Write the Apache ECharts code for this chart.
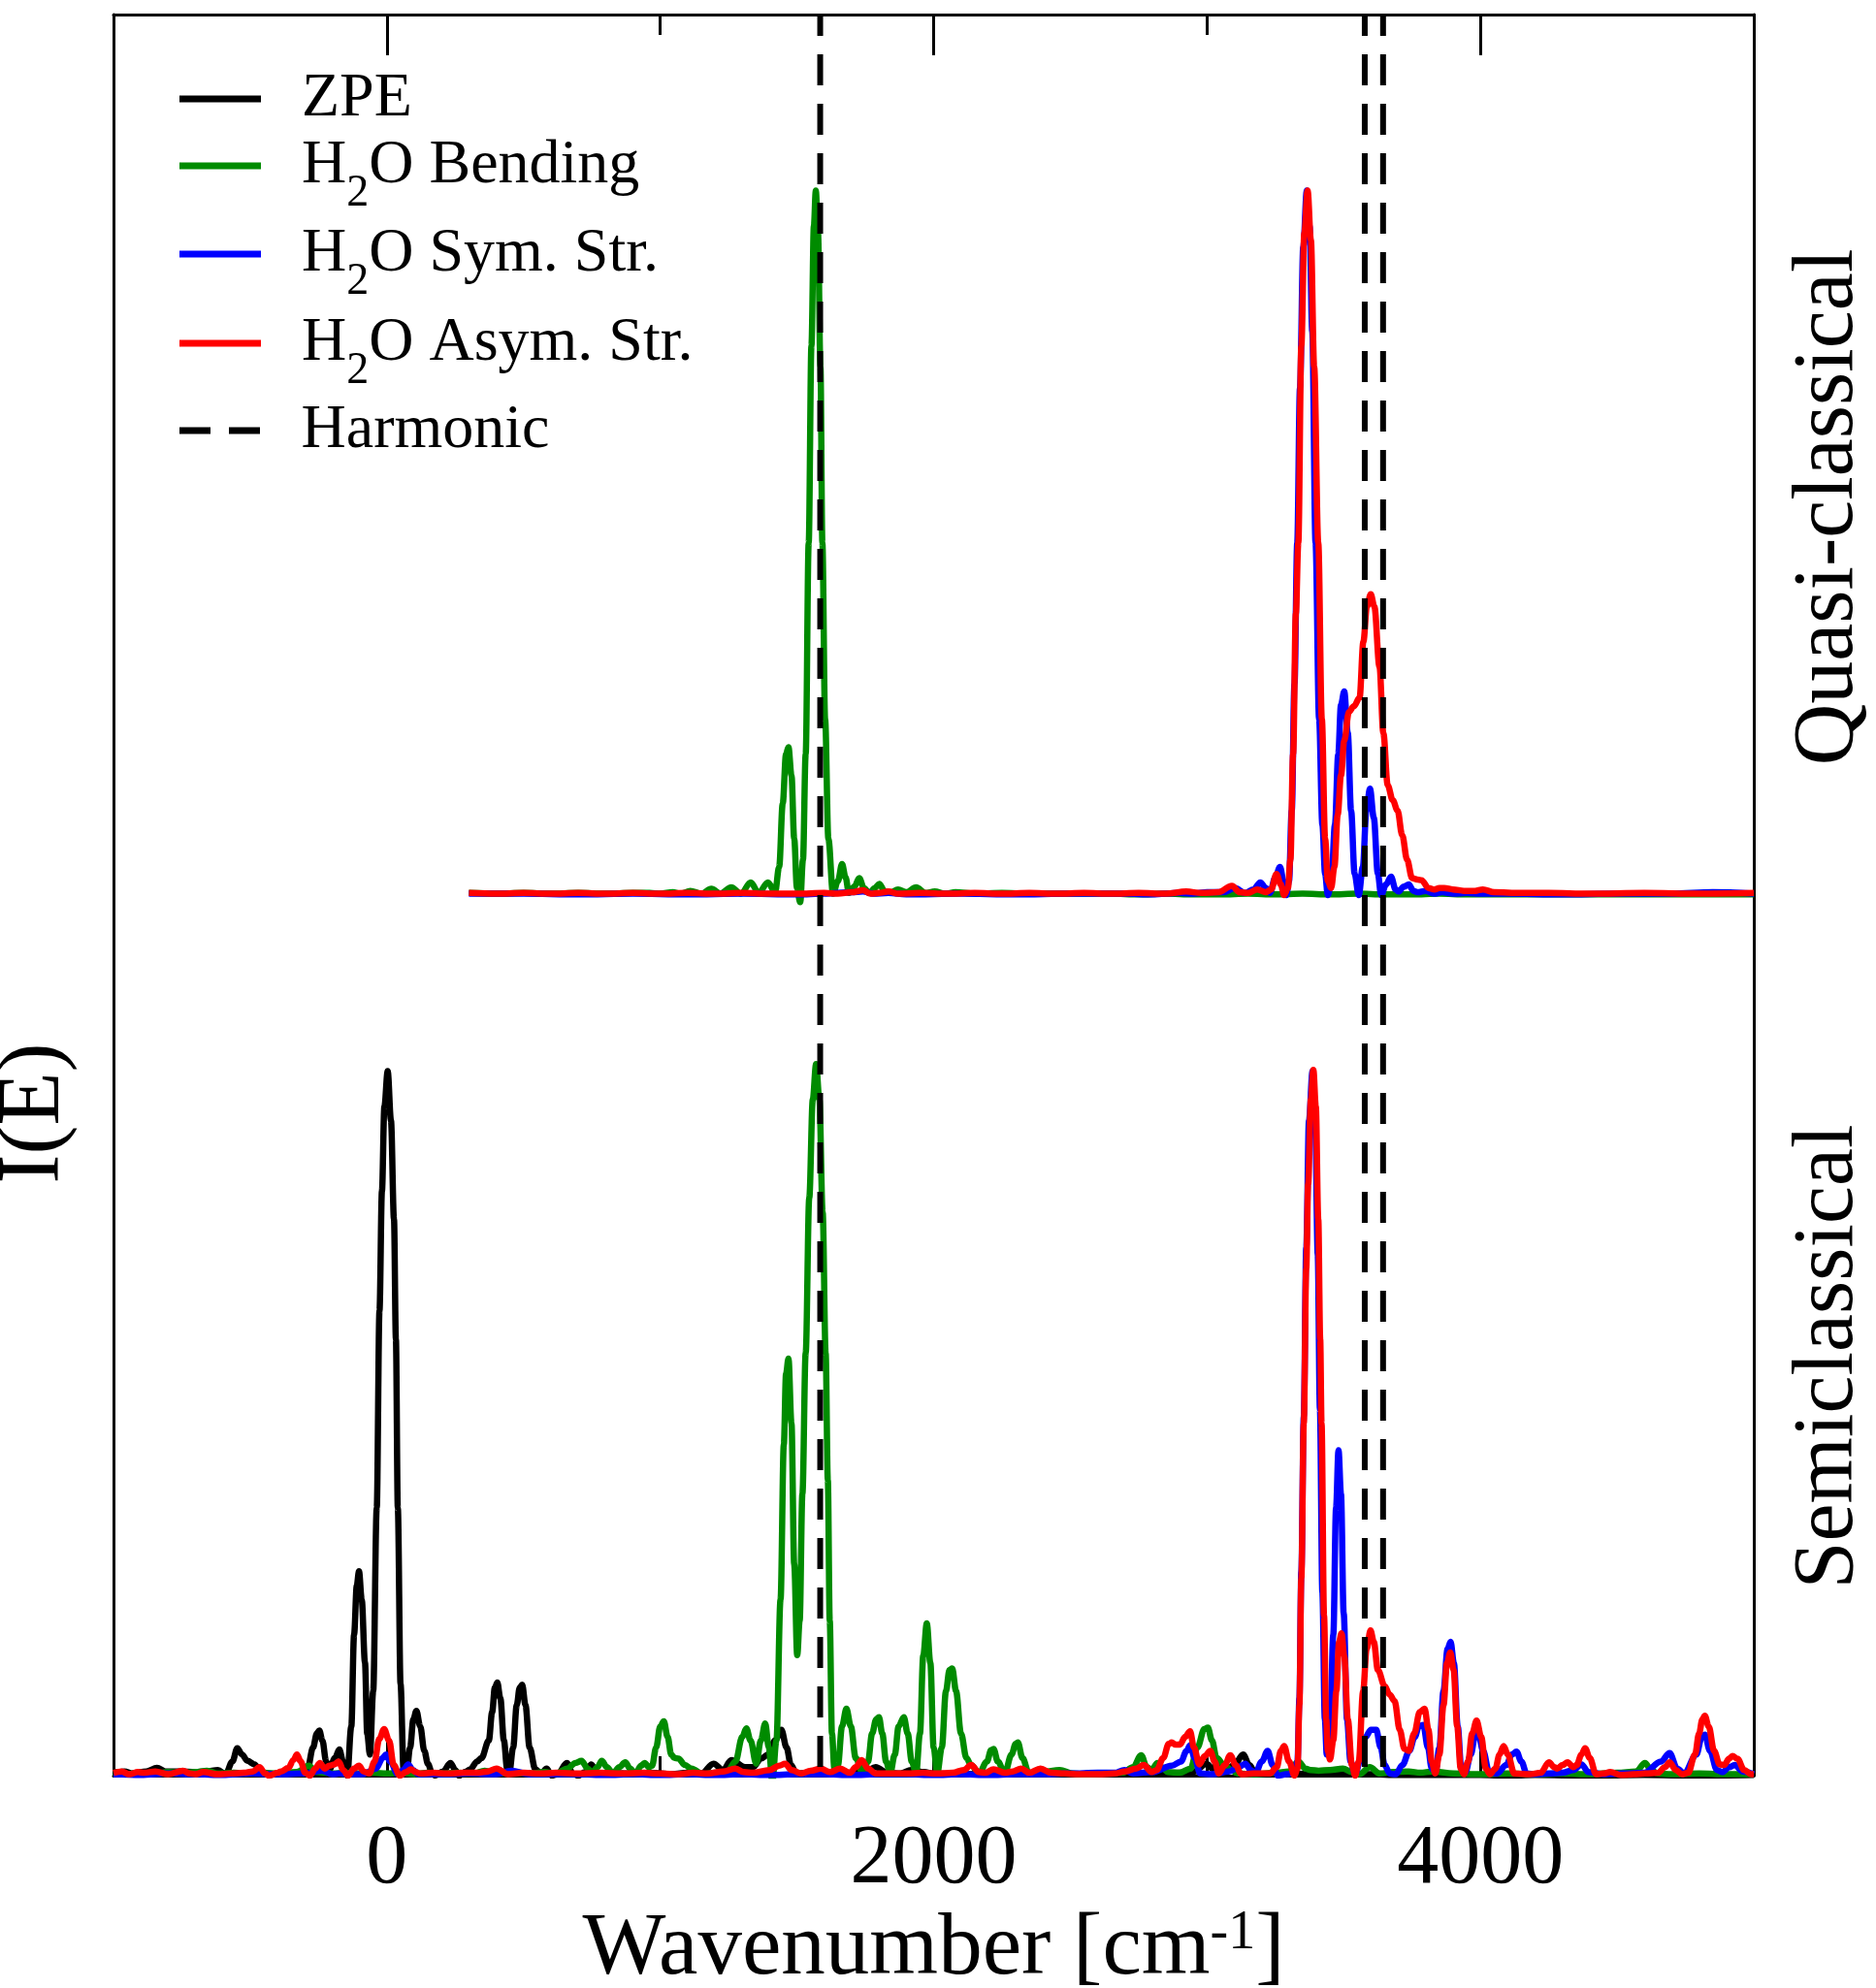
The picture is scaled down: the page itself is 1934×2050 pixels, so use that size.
<!DOCTYPE html>
<html>
<head>
<meta charset="utf-8">
<script src="https://cdn.jsdelivr.net/npm/echarts@6/dist/echarts.min.js"></script>
<style>
  html, body { margin: 0; padding: 0; background: #fff; }
  #spectrum-chart { width: 1934px; height: 2050px; }
</style>
</head>
<body>
<div id="spectrum-chart"></div>
<script>
// tick labels of the wavenumber axis
const majorTicks = [0, 2000, 4000];
const minorTicks = [1000, 3000];
// harmonic frequencies (dashed lines)
const harmonicFreqs = [1585, 3577, 3644];
// quasi-classical spectra are drawn shifted up by this amount
const qcOffset = 1.25;

// Semiclassical spectra [wavenumber, I(E)]
const zpeSC = [[-1000,0.004],[-960,0.006],[-930,0.003],[-880,0.006],[-841,0.011],[-810,0.006],[-760,0.006],[-700,0.005],[-660,0.006],[-618,0.008],[-590,0.002],[-565,0.02],[-547,0.039],[-530,0.03],[-510,0.021],[-484,0.016],[-460,0.005],[-430,0.001],[-380,0.004],[-320,0.003],[-290,0.01],[-270,0.04],[-256,0.06],[-247,0.064],[-236,0.05],[-222,0.02],[-210,0.009],[-190,0.025],[-174,0.037],[-160,0.02],[-145,0.0],[-130,0.07],[-120,0.2],[-110,0.27],[-102,0.29],[-92,0.25],[-80,0.16],[-72,0.06],[-62,0.03],[-50,0.12],[-37,0.38],[-27,0.66],[-18,0.83],[-9,0.95],[3,1.0],[15,0.93],[26,0.79],[33,0.62],[40,0.38],[50,0.13],[61,0.01],[72,0.003],[85,0.04],[97,0.08],[108,0.092],[122,0.07],[137,0.035],[150,0.017],[165,0.004],[177,0.0],[205,0.006],[233,0.018],[250,0.008],[264,0.0],[290,0.006],[305,0.009],[330,0.02],[346,0.025],[373,0.05],[385,0.09],[395,0.125],[404,0.132],[415,0.11],[428,0.05],[440,0.01],[448,0.005],[462,0.04],[475,0.1],[486,0.125],[495,0.129],[507,0.1],[522,0.04],[543,0.009],[565,0.003],[584,0.01],[603,0.0],[625,0.002],[658,0.018],[680,0.003],[700,0.0],[725,0.005],[748,0.016],[770,0.002],[820,0.004],[880,0.003],[960,0.004],[1043,0.002],[1100,0.004],[1150,0.003],[1195,0.017],[1230,0.008],[1260,0.022],[1310,0.012],[1340,0.012],[1368,0.024],[1395,0.03],[1420,0.05],[1443,0.065],[1462,0.04],[1478,0.015],[1498,0.003],[1550,0.004],[1620,0.003],[1700,0.004],[1750,0.006],[1788,0.012],[1830,0.004],[1880,0.003],[1918,0.008],[1965,0.005],[2000,0.003],[2100,0.002],[2200,0.003],[2300,0.002],[2400,0.003],[2500,0.002],[2600,0.003],[2700,0.002],[2800,0.003],[2900,0.004],[2954,0.006],[2998,0.017],[3020,0.01],[3043,0.02],[3070,0.008],[3100,0.015],[3132,0.03],[3155,0.015],[3177,0.003],[3230,0.002],[3300,0.003],[3400,0.002],[3500,0.002],[3600,0.002],[3700,0.001],[3800,0.001],[3900,0.001],[4000,0.001],[4100,0.0],[4200,0.001],[4400,0.0],[4600,0.001],[4800,0.0],[5000,0.001]];

const bendSC = [[-1000,0.004],[-950,0.002],[-900,0.004],[-850,0.003],[-800,0.005],[-750,0.004],[-700,0.005],[-658,0.007],[-620,0.003],[-560,0.004],[-500,0.003],[-450,0.004],[-400,0.003],[-330,0.005],[-285,0.014],[-260,0.005],[-200,0.003],[-150,0.004],[-100,0.003],[-50,0.004],[0,0.003],[50,0.004],[100,0.002],[150,0.004],[200,0.003],[260,0.004],[320,0.003],[358,0.007],[400,0.003],[460,0.004],[520,0.003],[577,0.005],[620,0.003],[660,0.01],[690,0.018],[712,0.021],[735,0.01],[752,0.004],[770,0.012],[786,0.021],[805,0.012],[827,0.003],[850,0.012],[872,0.019],[890,0.01],[909,0.003],[930,0.014],[943,0.018],[958,0.012],[970,0.014],[985,0.04],[1000,0.07],[1013,0.077],[1027,0.055],[1040,0.03],[1052,0.025],[1067,0.024],[1090,0.015],[1114,0.01],[1156,0.002],[1200,0.004],[1244,0.005],[1275,0.02],[1300,0.055],[1315,0.067],[1330,0.05],[1351,0.017],[1368,0.05],[1384,0.074],[1397,0.04],[1410,-0.008],[1425,0.05],[1440,0.25],[1452,0.47],[1460,0.57],[1469,0.592],[1480,0.5],[1490,0.3],[1501,0.171],[1510,0.22],[1520,0.4],[1532,0.6],[1545,0.82],[1558,0.96],[1570,1.01],[1582,0.96],[1594,0.8],[1605,0.6],[1613,0.42],[1620,0.22],[1628,0.06],[1637,0.01],[1650,0.015],[1665,0.07],[1681,0.095],[1697,0.07],[1715,0.025],[1741,0.003],[1760,0.02],[1775,0.06],[1790,0.08],[1800,0.083],[1812,0.06],[1826,0.02],[1841,0.003],[1858,0.03],[1872,0.07],[1891,0.083],[1905,0.06],[1920,0.02],[1936,0.003],[1950,0.06],[1962,0.17],[1975,0.216],[1988,0.16],[2000,0.04],[2013,0.003],[2030,0.04],[2045,0.12],[2058,0.15],[2068,0.152],[2082,0.12],[2100,0.06],[2120,0.025],[2137,0.015],[2166,0.003],[2195,0.02],[2210,0.036],[2219,0.038],[2235,0.02],[2260,0.003],[2285,0.03],[2300,0.045],[2308,0.047],[2325,0.025],[2349,0.003],[2400,0.005],[2461,0.008],[2510,0.003],[2556,0.002],[2620,0.003],[2690,0.004],[2730,0.012],[2759,0.029],[2780,0.012],[2797,0.008],[2819,0.018],[2840,0.01],[2856,0.005],[2900,0.004],[2940,0.01],[2965,0.04],[2990,0.066],[3003,0.068],[3018,0.05],[3035,0.025],[3065,0.014],[3090,0.008],[3110,0.003],[3180,0.002],[3250,0.004],[3300,0.006],[3334,0.02],[3360,0.01],[3378,0.008],[3408,0.007],[3450,0.008],[3497,0.01],[3530,0.005],[3557,0.002],[3595,0.012],[3632,0.003],[3680,0.005],[3737,0.006],[3780,0.004],[3826,0.006],[3901,0.003],[4000,0.002],[4100,0.003],[4200,0.002],[4300,0.003],[4400,0.002],[4500,0.004],[4570,0.006],[4602,0.018],[4625,0.008],[4647,0.003],[4700,0.002],[4800,0.003],[4900,0.002],[5000,0.002]];

const symSC = [[-1000,0.002],[-900,0.001],[-800,0.003],[-700,0.002],[-600,0.001],[-500,0.003],[-400,0.002],[-300,0.003],[-238,0.007],[-200,0.002],[-174,0.003],[-130,0.002],[-88,0.002],[-40,0.01],[-15,0.025],[-3,0.03],[12,0.02],[40,0.002],[60,0.008],[78,0.016],[95,0.008],[115,0.002],[200,0.002],[300,0.003],[400,0.002],[455,0.007],[520,0.002],[600,0.002],[700,0.002],[800,0.001],[900,0.002],[1000,0.001],[1100,0.002],[1200,0.001],[1300,0.002],[1400,0.001],[1500,0.002],[1600,0.002],[1700,0.001],[1800,0.002],[1900,0.002],[2000,0.001],[2100,0.002],[2200,0.001],[2300,0.002],[2400,0.002],[2500,0.003],[2600,0.004],[2662,0.004],[2698,0.008],[2730,0.003],[2800,0.005],[2871,0.014],[2905,0.02],[2925,0.035],[2938,0.043],[2955,0.025],[2975,0.003],[3020,0.002],[3080,0.006],[3115,0.012],[3140,0.017],[3160,0.008],[3177,0.003],[3200,0.02],[3222,0.035],[3240,0.015],[3259,0.0],[3290,0.002],[3320,0.004],[3331,0.02],[3338,0.11],[3345,0.29],[3354,0.51],[3363,0.75],[3373,0.93],[3386,1.0],[3396,0.92],[3405,0.74],[3413,0.52],[3422,0.26],[3431,0.08],[3438,0.03],[3450,0.06],[3462,0.2],[3472,0.38],[3481,0.462],[3490,0.4],[3500,0.23],[3512,0.08],[3525,0.02],[3542,0.002],[3560,0.02],[3578,0.054],[3600,0.065],[3619,0.065],[3635,0.04],[3650,0.015],[3668,0.003],[3690,0.002],[3715,0.015],[3740,0.035],[3760,0.055],[3775,0.07],[3791,0.072],[3808,0.04],[3822,0.01],[3836,0.005],[3850,0.04],[3865,0.12],[3880,0.18],[3891,0.19],[3903,0.16],[3917,0.07],[3930,0.01],[3945,0.005],[3965,0.03],[3980,0.055],[3992,0.06],[4010,0.035],[4032,0.005],[4060,0.003],[4095,0.015],[4115,0.03],[4132,0.034],[4150,0.02],[4169,0.003],[4200,0.002],[4250,0.003],[4300,0.004],[4340,0.008],[4370,0.016],[4395,0.005],[4450,0.002],[4520,0.003],[4600,0.004],[4660,0.02],[4692,0.032],[4720,0.01],[4745,0.003],[4790,0.03],[4810,0.055],[4821,0.058],[4840,0.035],[4865,0.008],[4885,0.005],[4910,0.012],[4930,0.015],[4960,0.006],[5000,0.002]];

const asymSC = [[-1000,0.004],[-970,0.006],[-943,0.002],[-910,0.005],[-888,0.004],[-847,0.006],[-800,0.002],[-746,0.007],[-720,0.003],[-700,0.002],[-672,0.005],[-618,0.002],[-570,0.003],[-523,0.004],[-490,0.006],[-466,0.012],[-445,0.003],[-431,0.0],[-400,0.004],[-387,0.006],[-360,0.011],[-342,0.022],[-329,0.03],[-315,0.02],[-299,0.004],[-281,0.0],[-262,0.01],[-245,0.018],[-228,0.01],[-210,0.014],[-192,0.016],[-176,0.02],[-160,0.008],[-142,0.0],[-120,0.01],[-102,0.014],[-85,0.006],[-64,0.003],[-45,0.02],[-28,0.052],[-10,0.066],[8,0.05],[25,0.015],[47,0.0],[70,0.005],[88,0.009],[105,0.005],[122,0.003],[169,0.004],[220,0.003],[280,0.004],[333,0.004],[370,0.006],[401,0.01],[443,0.002],[500,0.004],[560,0.003],[620,0.004],[700,0.003],[780,0.004],[860,0.003],[940,0.004],[1000,0.003],[1067,0.002],[1120,0.004],[1174,0.003],[1230,0.006],[1274,0.01],[1305,0.005],[1339,0.004],[1400,0.008],[1435,0.014],[1457,0.017],[1480,0.008],[1516,0.003],[1550,0.007],[1587,0.01],[1620,0.005],[1658,0.01],[1694,0.004],[1715,0.012],[1737,0.022],[1760,0.01],[1788,0.003],[1847,0.003],[1906,0.003],[1960,0.004],[2010,0.003],[2070,0.004],[2110,0.008],[2137,0.015],[2165,0.005],[2190,0.004],[2219,0.009],[2260,0.004],[2290,0.006],[2320,0.01],[2350,0.004],[2391,0.01],[2430,0.004],[2480,0.003],[2532,0.002],[2603,0.002],[2662,0.003],[2700,0.006],[2740,0.01],[2769,0.015],[2797,0.005],[2816,0.008],[2840,0.025],[2860,0.045],[2871,0.047],[2885,0.044],[2901,0.044],[2920,0.055],[2938,0.063],[2952,0.04],[2972,0.016],[2992,0.028],[3012,0.035],[3028,0.02],[3043,0.003],[3065,0.015],[3085,0.029],[3105,0.015],[3125,0.002],[3170,0.003],[3230,0.003],[3255,0.012],[3270,0.035],[3282,0.042],[3300,0.02],[3320,0.0],[3331,0.01],[3338,0.1],[3345,0.28],[3354,0.5],[3363,0.72],[3370,0.84],[3380,0.96],[3389,1.002],[3398,0.95],[3407,0.79],[3414,0.62],[3419,0.5],[3428,0.227],[3436,0.08],[3442,0.035],[3450,0.023],[3462,0.05],[3473,0.12],[3483,0.19],[3492,0.202],[3502,0.17],[3515,0.08],[3530,0.015],[3542,0.0],[3555,0.02],[3571,0.12],[3584,0.18],[3598,0.206],[3610,0.19],[3625,0.15],[3650,0.127],[3668,0.115],[3686,0.106],[3705,0.065],[3722,0.038],[3738,0.035],[3758,0.06],[3778,0.09],[3796,0.095],[3810,0.065],[3822,0.02],[3835,0.003],[3850,0.03],[3865,0.1],[3878,0.16],[3890,0.175],[3902,0.15],[3915,0.07],[3928,0.01],[3940,0.002],[3955,0.02],[3970,0.06],[3986,0.078],[4003,0.055],[4020,0.01],[4035,0.002],[4055,0.01],[4070,0.03],[4085,0.042],[4100,0.03],[4124,0.003],[4180,0.002],[4220,0.004],[4251,0.019],[4270,0.012],[4281,0.01],[4300,0.015],[4319,0.019],[4340,0.012],[4352,0.015],[4370,0.03],[4383,0.039],[4400,0.025],[4423,0.002],[4450,0.003],[4475,0.005],[4513,0.001],[4560,0.002],[4602,0.003],[4650,0.004],[4675,0.012],[4692,0.019],[4715,0.008],[4737,0.002],[4760,0.004],[4785,0.03],[4800,0.06],[4812,0.08],[4821,0.085],[4835,0.07],[4855,0.035],[4875,0.016],[4892,0.015],[4910,0.024],[4922,0.028],[4940,0.024],[4965,0.008],[4990,0.002],[5000,0.002]];

// Quasi-classical spectra [wavenumber, I(E)], start at 300 cm-1
const bendQC = [[300,0.003],[400,0.002],[500,0.003],[600,0.002],[700,0.003],[800,0.002],[900,0.003],[961,0.003],[1000,0.002],[1046,0.004],[1075,0.002],[1110,0.006],[1150,0.002],[1187,0.009],[1220,0.002],[1260,0.011],[1295,0.002],[1331,0.018],[1360,0.003],[1394,0.018],[1420,0.004],[1435,0.04],[1448,0.13],[1460,0.2],[1469,0.21],[1480,0.17],[1490,0.08],[1500,0.01],[1512,-0.01],[1522,0.05],[1532,0.2],[1543,0.5],[1553,0.78],[1562,0.95],[1569,1.0],[1577,0.94],[1586,0.75],[1593,0.5],[1603,0.25],[1615,0.08],[1632,0.002],[1650,0.02],[1665,0.044],[1678,0.025],[1690,0.003],[1710,0.012],[1728,0.024],[1745,0.01],[1765,0.003],[1785,0.01],[1801,0.016],[1820,0.006],[1840,0.003],[1870,0.008],[1900,0.004],[1936,0.011],[1970,0.003],[2004,0.005],[2040,0.002],[2080,0.004],[2150,0.002],[2250,0.003],[2350,0.002],[2450,0.002],[2550,0.002],[2650,0.002],[2750,0.001],[2850,0.002],[2950,0.001],[3050,0.001],[3150,0.002],[3250,0.001],[3350,0.002],[3450,0.001],[3550,0.002],[3650,0.001],[3750,0.001],[3850,0.002],[3950,0.001],[4100,0.001],[4300,0.001],[4500,0.001],[4700,0.001],[5000,0.001]];

const symQC = [[300,0.002],[500,0.002],[700,0.001],[900,0.002],[1100,0.001],[1300,0.002],[1500,0.001],[1600,0.002],[1700,0.004],[1741,0.005],[1780,0.002],[1835,0.003],[1900,0.001],[2100,0.002],[2300,0.001],[2500,0.002],[2700,0.002],[2800,0.001],[2900,0.003],[2950,0.002],[3000,0.004],[3060,0.004],[3102,0.01],[3140,0.003],[3170,0.008],[3195,0.018],[3215,0.01],[3230,0.003],[3250,0.025],[3267,0.04],[3280,0.02],[3290,0.0],[3300,0.02],[3310,0.12],[3320,0.3],[3330,0.5],[3340,0.72],[3352,0.92],[3365,1.0],[3375,0.95],[3385,0.8],[3397,0.5],[3410,0.25],[3422,0.1],[3432,0.03],[3442,0.0],[3455,0.02],[3468,0.1],[3480,0.2],[3490,0.27],[3502,0.289],[3515,0.23],[3527,0.12],[3540,0.03],[3555,0.0],[3570,0.04],[3583,0.12],[3596,0.151],[3610,0.11],[3625,0.03],[3637,0.0],[3655,0.015],[3673,0.026],[3690,0.008],[3700,0.005],[3720,0.012],[3738,0.015],[3755,0.006],[3770,0.004],[3800,0.006],[3830,0.002],[3860,0.004],[3900,0.002],[3950,0.003],[4000,0.002],[4100,0.002],[4300,0.001],[4500,0.002],[4700,0.002],[4850,0.004],[5000,0.002]];

const asymQC = [[300,0.003],[400,0.002],[500,0.003],[600,0.002],[700,0.003],[800,0.002],[900,0.003],[1000,0.002],[1100,0.003],[1200,0.002],[1300,0.003],[1400,0.002],[1500,0.002],[1600,0.003],[1650,0.002],[1700,0.004],[1741,0.007],[1770,0.002],[1800,0.003],[1835,0.005],[1870,0.002],[1950,0.003],[2050,0.002],[2150,0.003],[2250,0.002],[2350,0.003],[2450,0.002],[2550,0.003],[2650,0.002],[2750,0.003],[2850,0.002],[2924,0.005],[2980,0.003],[3040,0.004],[3091,0.013],[3120,0.004],[3150,0.003],[3184,0.008],[3215,0.004],[3235,0.008],[3254,0.03],[3270,0.015],[3282,0.0],[3296,0.01],[3305,0.05],[3315,0.2],[3325,0.4],[3334,0.5],[3345,0.78],[3356,0.94],[3368,1.0],[3380,0.93],[3392,0.75],[3407,0.5],[3420,0.25],[3432,0.08],[3442,0.02],[3454,0.01],[3466,0.04],[3478,0.114],[3490,0.17],[3502,0.219],[3519,0.26],[3537,0.268],[3558,0.28],[3572,0.36],[3585,0.41],[3599,0.427],[3612,0.41],[3631,0.324],[3645,0.23],[3661,0.156],[3679,0.135],[3697,0.12],[3714,0.085],[3732,0.05],[3750,0.024],[3770,0.022],[3785,0.021],[3810,0.01],[3832,0.008],[3850,0.01],[3868,0.01],[3900,0.008],[3940,0.006],[3980,0.006],[4009,0.008],[4050,0.004],[4150,0.003],[4250,0.003],[4400,0.002],[4600,0.003],[4800,0.002],[5000,0.003]];

const FONT = '"Liberation Serif", "DejaVu Serif", serif';
const GREEN = '#008b00';

let chart = echarts.init(document.getElementById('spectrum-chart'));

function curve (name, data, color, shift) {
  return {
    name: name,
    type: 'line',
    data: data.map(p => [p[0], p[1] + shift]),
    symbol: 'none',
    smooth: 0.35,
    smoothMonotone: 'x',
    animation: false,
    lineStyle: { color: color, width: 6.5 },
    itemStyle: { color: color }
  };
}

let series = [
  curve('ZPE', zpeSC, '#000', 0),
  curve('bend', bendQC, GREEN, qcOffset),
  curve('bend', bendSC, GREEN, 0),
  curve('sym', symQC, '#0000ff', qcOffset),
  curve('sym', symSC, '#0000ff', 0),
  curve('asym', asymQC, '#ff0000', qcOffset),
  curve('asym', asymSC, '#ff0000', 0)
];
harmonicFreqs.forEach(f => {
  series.push({
    name: 'Harmonic',
    type: 'line',
    data: [[f, 2.5], [f, 0]],
    symbol: 'none',
    animation: false,
    lineStyle: { color: '#000', width: 6, type: [32, 19], dashOffset: 10 },
    itemStyle: { color: '#000' }
  });
});

const legendText = {
  ZPE: 'ZPE',
  bend: '{m|H}{s|2}{m|O Bending}',
  sym: '{m|H}{s|2}{m|O Sym. Str.}',
  asym: '{m|H}{s|2}{m|O Asym. Str.}',
  Harmonic: 'Harmonic'
};
const legendTops = { ZPE: 70, bend: 139, sym: 230, asym: 322, Harmonic: 412 };
const solidIcon = 'path://M0,0h84v7h-84z';
const dashIcon = 'path://M0,0h32v7h-32z M51,0h32v7h-32z';

function legendFor (name) {
  return {
    data: [name],
    left: 185,
    top: legendTops[name],
    padding: 0,
    itemWidth: 84,
    itemHeight: 7,
    icon: name === 'Harmonic' ? dashIcon : solidIcon,
    selectedMode: false,
    formatter: n => legendText[n],
    textStyle: {
      fontFamily: FONT,
      fontSize: 64,
      color: '#000',
      padding: [0, 0, 0, 37],
      rich: {
        m: { fontFamily: FONT, fontSize: 64, lineHeight: 64, verticalAlign: 'top', color: '#000' },
        s: { fontFamily: FONT, fontSize: 46, lineHeight: 52, verticalAlign: 'top', padding: [38, 0, 0, 0], color: '#000' }
      }
    }
  };
}

const axisLineStyle = { color: '#000', width: 3 };

chart.setOption({
  backgroundColor: '#fff',
  animation: false,
  grid: { left: 117, right: 126, top: 15, bottom: 219, containLabel: false, outerBoundsMode: 'none' },
  legend: ['ZPE', 'bend', 'sym', 'asym', 'Harmonic'].map(legendFor),
  xAxis: [
    {
      type: 'value', min: -1000, max: 5000, position: 'bottom',
      axisLine: { show: true, onZero: false, lineStyle: axisLineStyle },
      axisTick: { show: true, inside: true, length: 40, customValues: majorTicks, lineStyle: axisLineStyle },
      axisLabel: { customValues: majorTicks, margin: 44, fontFamily: FONT, fontSize: 86, color: '#000', formatter: v => String(v) },
      splitLine: { show: false },
      name: 'Wavenumber [cm{sup|-1}]',
      nameLocation: 'middle',
      nameGap: 100,
      nameTextStyle: {
        fontFamily: FONT, fontSize: 91, color: '#000',
        rich: {
          sup: { fontFamily: FONT, fontSize: 56, lineHeight: 44, verticalAlign: 'top', color: '#000' }
        }
      }
    },
    {
      type: 'value', min: -1000, max: 5000, position: 'bottom',
      axisLine: { show: false, onZero: false },
      axisTick: { show: true, inside: true, length: 20, customValues: minorTicks, lineStyle: axisLineStyle },
      axisLabel: { show: false },
      splitLine: { show: false }
    },
    {
      type: 'value', min: -1000, max: 5000, position: 'top',
      axisLine: { show: true, onZero: false, lineStyle: axisLineStyle },
      axisTick: { show: true, inside: true, length: 42, customValues: majorTicks, lineStyle: axisLineStyle },
      axisLabel: { show: false },
      splitLine: { show: false }
    },
    {
      type: 'value', min: -1000, max: 5000, position: 'top',
      axisLine: { show: false, onZero: false },
      axisTick: { show: true, inside: true, length: 21, customValues: minorTicks, lineStyle: axisLineStyle },
      axisLabel: { show: false },
      splitLine: { show: false }
    }
  ],
  yAxis: [
    {
      type: 'value', min: 0, max: 2.5, position: 'left',
      axisLine: { show: true, onZero: false, lineStyle: axisLineStyle },
      axisTick: { show: false }, axisLabel: { show: false }, splitLine: { show: false }
    },
    {
      type: 'value', min: 0, max: 2.5, position: 'right',
      axisLine: { show: true, onZero: false, lineStyle: axisLineStyle },
      axisTick: { show: false }, axisLabel: { show: false }, splitLine: { show: false }
    }
  ],
  graphic: [
    {
      type: 'text', x: 36, y: 1148, rotation: Math.PI / 2,
      style: { text: 'I(E)', fontFamily: FONT, fontSize: 90, fill: '#000', textAlign: 'center', textVerticalAlign: 'middle', align: 'center', verticalAlign: 'middle' }
    },
    {
      type: 'text', x: 1886, y: 523, rotation: Math.PI / 2,
      style: { text: 'Quasi-classical', fontFamily: FONT, fontSize: 88, fill: '#000', textAlign: 'center', textVerticalAlign: 'middle', align: 'center', verticalAlign: 'middle' }
    },
    {
      type: 'text', x: 1886, y: 1399, rotation: Math.PI / 2,
      style: { text: 'Semiclassical', fontFamily: FONT, fontSize: 88, fill: '#000', textAlign: 'center', textVerticalAlign: 'middle', align: 'center', verticalAlign: 'middle' }
    }
  ],
  series: series
});
window.addEventListener('resize', () => { chart.resize(); });
</script>
</body>
</html>
